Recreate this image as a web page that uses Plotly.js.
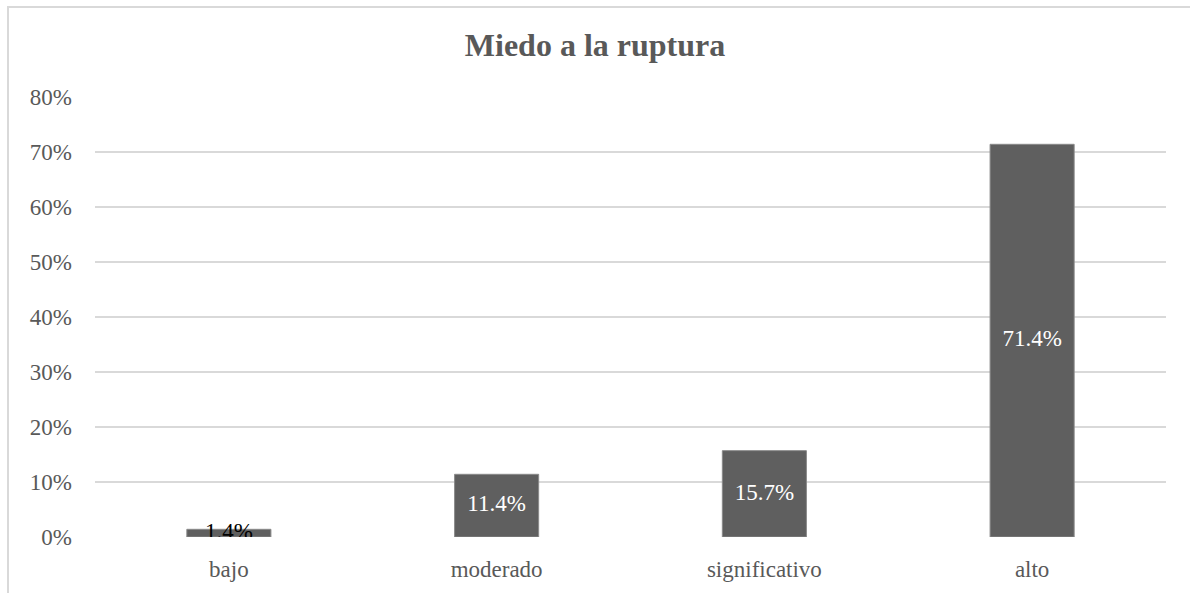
<!DOCTYPE html>
<html>
<head>
<meta charset="utf-8">
<script src="https://cdn.plot.ly/plotly-3.0.1.min.js"></script>
<style>html,body{margin:0;padding:0;background:#fff;}#chart{width:1190px;height:593px;}</style>
</head>
<body>
<div id="chart"></div>
<script>
const categories = ["bajo", "moderado", "significativo", "alto"];
const values = [0.014, 0.114, 0.157, 0.714];
const labels = ["1.4%", "11.4%", "15.7%", "71.4%"];
const labelColors = ["#000000", "#ffffff", "#ffffff", "#ffffff"];
const yTicks = [0, 0.1, 0.2, 0.3, 0.4, 0.5, 0.6, 0.7, 0.8];
const yTickLabels = ["0%", "10%", "20%", "30%", "40%", "50%", "60%", "70%", "80%"];

const font = "Liberation Serif";

const bars = {
  type: "bar",
  x: categories,
  y: values,
  marker: {color: "#5f5f5f", line: {color: "#8a8a8a", width: 1}},
  hoverinfo: "none",
  showlegend: false
};
const text = {
  type: "scatter",
  mode: "text",
  x: categories,
  y: values.map(v => v / 2),
  text: labels,
  textposition: "middle center",
  textfont: {family: font, size: 23, color: labelColors},
  hoverinfo: "none",
  showlegend: false
};

const layout = {
  width: 1190,
  height: 593,
  margin: {l: 95, r: 24, t: 97, b: 56},
  paper_bgcolor: "#ffffff",
  plot_bgcolor: "#ffffff",
  bargap: 0.686,
  font: {family: font},
  title: {
    text: "<b>Miedo a la ruptura</b>",
    font: {family: font, size: 32, color: "#595959"},
    x: 0.5, xanchor: "center",
    y: 1 - 45 / 593, yanchor: "middle"
  },
  xaxis: {
    type: "category",
    tickfont: {family: font, size: 23, color: "#595959"},
    showgrid: false,
    zeroline: false,
    showline: false,
    ticks: "",
    ticklabelstandoff: 16
  },
  yaxis: {
    range: [0, 0.8],
    tickvals: yTicks,
    ticktext: yTickLabels,
    tickfont: {family: font, size: 23, color: "#595959"},
    showgrid: true,
    gridcolor: "#d9d9d9",
    gridwidth: 1.5,
    zeroline: false,
    showline: false,
    ticks: "",
    ticklabelstandoff: 22
  },
  shapes: [{
    type: "rect", xref: "paper", yref: "paper",
    x0: -87 / 1071, x1: 1.5, y0: -0.5, y1: 1 + 90 / 440,
    line: {color: "#d9d9d9", width: 2}, fillcolor: "rgba(0,0,0,0)", layer: "below"
  }]
};

Plotly.newPlot("chart", [bars, text], layout, {staticPlot: true, displayModeBar: false});
</script>
</body>
</html>
